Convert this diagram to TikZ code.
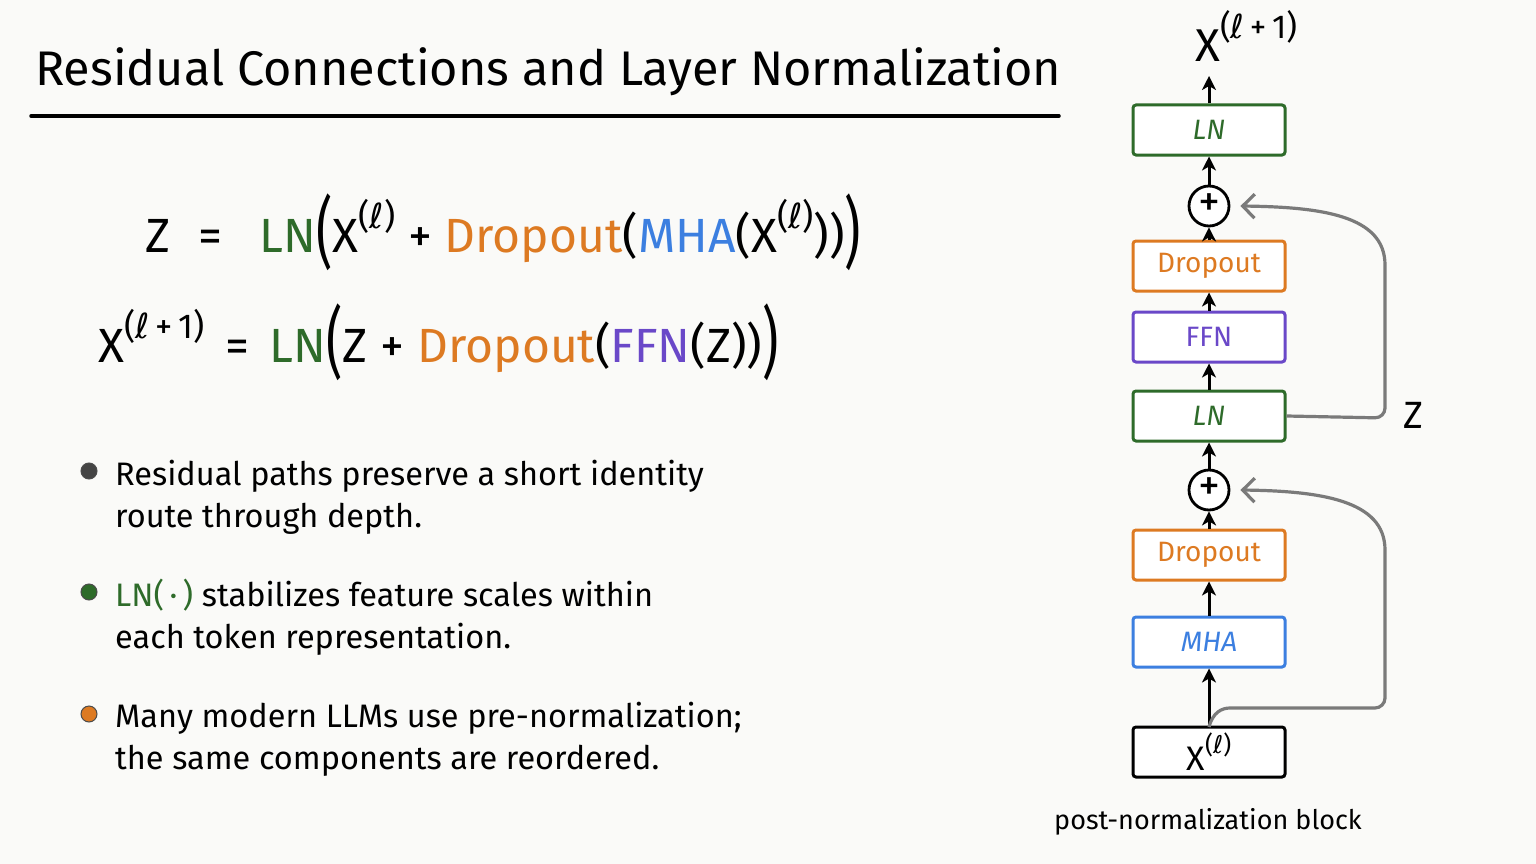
\documentclass[tikz,border=0pt]{standalone}
\usepackage{graphicx}
\usepackage{fontspec}
\setmainfont{Fira Sans}
\newfontfamily\ellfont{DejaVu Sans}
\newcommand{\ellc}{{\ellfont ℓ}}
\newcommand{\mysup}[1]{\raisebox{0.5em}{\scalebox{0.72}{#1}}}
\newcommand{\supl}{\mysup{(\ellc)}}
\newcommand{\suplp}{\mysup{(\ellc\,+\,1)}}
\newcommand{\bigpl}{\raisebox{-0.16em}{\scalebox{1.05}[1.62]{(}}}
\newcommand{\bigpr}{\raisebox{-0.16em}{\scalebox{1.05}[1.62]{)}}}
\usetikzlibrary{arrows.meta}
\definecolor{bg}{HTML}{FAFAF8}
\definecolor{lngreen}{HTML}{2E6B2A}
\definecolor{dporange}{HTML}{DD7A22}
\definecolor{mhablue}{HTML}{3C7FE0}
\definecolor{ffnpurple}{HTML}{6A48C8}
\definecolor{resgray}{HTML}{7A7A7A}
\definecolor{dotgray}{HTML}{444444}
\tikzset{
  blk/.style={draw, rounded corners=3pt, line width=3pt, minimum width=152pt, minimum height=50pt, inner sep=0pt, font=\fontsize{28}{34}\selectfont, fill=white},
  plusnode/.style={draw, circle, line width=2.8pt, minimum size=40pt, inner sep=0pt, font=\fontsize{44}{44}\selectfont, fill=white},
  flow/.style={-{Stealth[length=14pt,width=14pt,inset=4pt]}, line width=3pt, black},
  resid/.style={-{Straight Barb[length=12pt,width=24pt,line width=3.2pt]}, line width=3.2pt, resgray, rounded corners=10pt},
  bullettext/.style={anchor=base west, font=\fontsize{32.5}{42}\selectfont, align=left, inner sep=0pt},
  bulletdot/.style={circle, draw=black!70, line width=1pt, minimum size=16pt, inner sep=0pt},
  eq/.style={anchor=base west, font=\fontsize{48}{56}\selectfont, inner sep=0pt}
}
\begin{document}
\begin{tikzpicture}[x=1pt,y=-1pt]
\fill[bg] (0,0) rectangle (1536,864);
\useasboundingbox (0,0) rectangle (1536,864);

% title
\node[anchor=base west, font=\fontsize{48.6}{56}\selectfont, inner sep=0pt] (title) at (35,86) {Residual Connections and Layer Normalization};
\draw[line width=3.5pt, line cap=round] (31,116) -- (1059,116);

% equations
\node[eq] (eq1) at (145,252) {Z\,\, =\,\,\, \textcolor{lngreen}{LN}\bigpl X\supl{} + \textcolor{dporange}{Dropout}(\textcolor{mhablue}{MHA}(X\supl))\bigpr};
\node[eq] (eq2) at (98,362) {X\suplp{}\, =\, \textcolor{lngreen}{LN}\bigpl Z + \textcolor{dporange}{Dropout}(\textcolor{ffnpurple}{FFN}(Z))\bigpr};

% bullets
\node[bulletdot, fill=dotgray] (d1) at (89,471) {};
\node[bullettext] (b1) at (115,527) {Residual paths preserve a short identity\\route through depth.};
\node[bulletdot, fill=lngreen] (d2) at (89,592) {};
\node[bullettext] (b2) at (115,648) {\textcolor{lngreen}{LN(\,·\,)} stabilizes feature scales within\\each token representation.};
\node[bulletdot, fill=dporange] (d3) at (89,714) {};
\node[bullettext] (b3) at (115,769) {Many modern LLMs use pre-normalization;\\the same components are reordered.};

% block diagram
\node[blk, draw=black, font=\fontsize{34}{38}\selectfont] (xin) at (1209,752) {X\supl};
\node[blk, draw=mhablue, text=mhablue] (mha) at (1209,642) {\itshape MHA};
\node[blk, draw=dporange, text=dporange] (drop1) at (1209,555) {Dropout};
\node[plusnode] (plus1) at (1209,490) {\raisebox{0.04em}{+}};
\node[blk, draw=lngreen, text=lngreen] (ln1) at (1209,416) {\itshape LN};
\node[blk, draw=ffnpurple, text=ffnpurple] (ffn) at (1209,337) {FFN};
\node[blk, draw=dporange, text=dporange] (drop2) at (1209,266) {Dropout};
\node[plusnode] (plus2) at (1209,206) {\raisebox{0.04em}{+}};
\node[blk, draw=lngreen, text=lngreen] (ln2) at (1209,130) {\itshape LN};
\node[anchor=base west, font=\fontsize{46}{50}\selectfont, inner sep=0pt] (xout) at (1195,62) {X\suplp};
\coordinate (xoutbase) at (1209,76);
\node[font=\fontsize{38}{42}\selectfont] (zlabel) at (1413,415) {Z};
\node[font=\fontsize{27}{32}\selectfont] (caption) at (1208,822) {post-normalization block};

\coordinate (branch) at (1209,727);
\draw[flow] (branch) -- (mha.south);
\draw[flow] (mha.north) -- (drop1.south);
\draw[flow] (drop1.north) -- (plus1.south);
\draw[flow] (plus1.north) -- (ln1.south);
\draw[flow] (ln1.north) -- (ffn.south);
\draw[flow] (ffn.north) -- (drop2.south);
\draw[flow] (drop2.north) -- (plus2.south);
\draw[flow] (plus2.north) -- (ln2.south);
\draw[flow] (ln2.north) -- (xoutbase);

% residual paths
\draw[resid] (ln1.east) -- (1385,418) -- (1385,275) .. controls (1385,215) and (1320,207) .. ([xshift=10pt]plus2.east);
\draw[resid] (branch) .. controls (1213,712) and (1222,708) .. (1240,708) -- (1385,708) -- (1385,560) .. controls (1385,500) and (1320,491) .. ([xshift=10pt]plus1.east);
\end{tikzpicture}
\end{document}
